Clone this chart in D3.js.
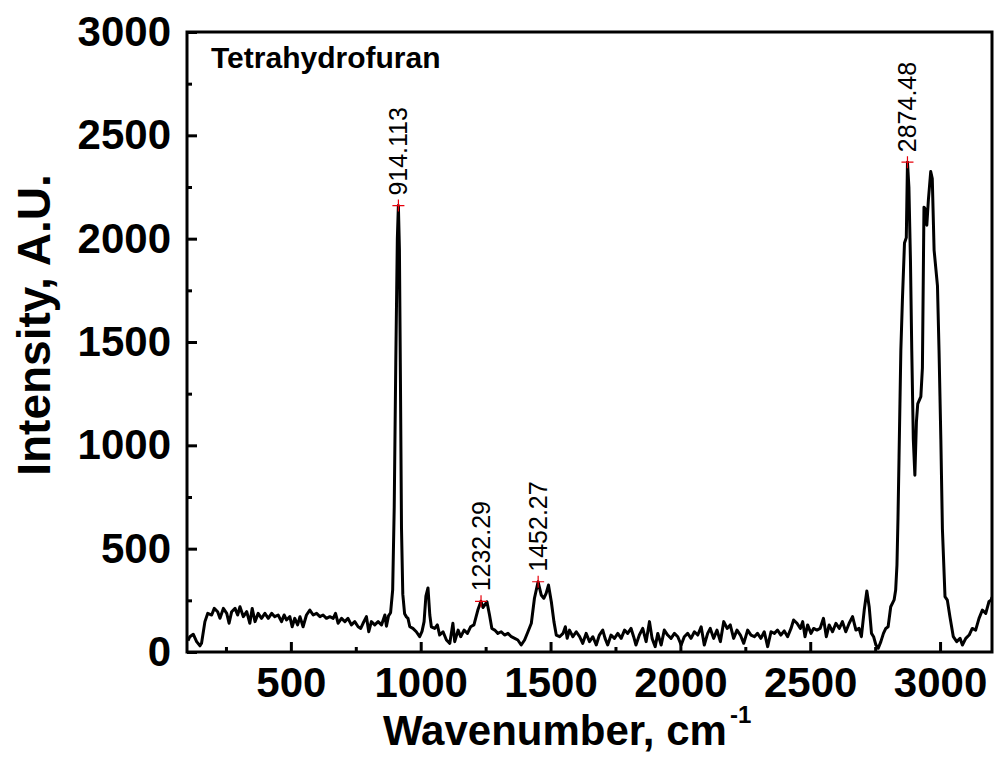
<!DOCTYPE html>
<html>
<head>
<meta charset="utf-8">
<script src="https://cdn.jsdelivr.net/npm/d3@7"></script>
<style>
    html, body { margin: 0; padding: 0; background: #ffffff; }
    #chart { width: 996px; height: 758px; }
    text { font-family: "Liberation Sans", Arial, sans-serif; }
</style>
</head>
<body>
<div id="chart"></div>
<script>

// spectrum
const wavenumbers = [
    104, 111, 124, 137, 150, 156, 169, 180, 195, 205, 218, 227, 240, 253, 262, 272, 285, 295, 304, 317,
    330, 342, 351, 362, 374, 387, 400, 413, 426, 438, 451, 464, 474, 483, 496, 505, 515, 526, 535, 547,
    560, 573, 586, 599, 612, 624, 637, 650, 663, 672, 682, 695, 708, 720, 733, 746, 759, 769, 778, 791,
    800, 810, 823, 836, 849, 862, 868, 876, 884, 892, 898, 904, 910, 914, 918, 922, 926, 931, 938, 945,
    951, 958, 970, 983, 996, 1005, 1013, 1020, 1028, 1035, 1041, 1054, 1064, 1073, 1086, 1099, 1112, 1124, 1131, 1144,
    1154, 1167, 1180, 1192, 1205, 1220, 1232, 1240, 1246, 1255, 1265, 1274, 1285, 1297, 1310, 1323, 1336, 1349, 1362, 1374,
    1387, 1400, 1413, 1426, 1438, 1452, 1464, 1474, 1483, 1492, 1503, 1513, 1522, 1535, 1548, 1557, 1564, 1573, 1586, 1599,
    1612, 1624, 1637, 1650, 1663, 1676, 1688, 1701, 1710, 1720, 1733, 1746, 1759, 1772, 1785, 1797, 1810, 1820, 1829, 1842,
    1855, 1868, 1881, 1891, 1903, 1913, 1926, 1938, 1951, 1964, 1977, 1990, 2003, 2015, 2028, 2041, 2054, 2067, 2080, 2092,
    2105, 2115, 2128, 2141, 2154, 2167, 2180, 2192, 2205, 2218, 2231, 2244, 2259, 2272, 2285, 2297, 2310, 2323, 2336, 2349,
    2362, 2374, 2387, 2400, 2413, 2426, 2436, 2449, 2462, 2471, 2480, 2490, 2503, 2513, 2526, 2538, 2551, 2562, 2573, 2586,
    2599, 2612, 2624, 2637, 2650, 2663, 2676, 2688, 2697, 2708, 2718, 2727, 2736, 2744, 2753, 2762, 2772, 2782, 2791, 2800,
    2810, 2823, 2829, 2834, 2838, 2842, 2849, 2855, 2863, 2870, 2874.48, 2880, 2886, 2891, 2897, 2903, 2909, 2914, 2926, 2932,
    2938, 2945, 2949, 2955, 2964, 2970, 2977, 2990, 2996, 3003, 3009, 3019, 3028, 3038, 3051, 3064, 3077, 3086, 3099, 3112,
    3124, 3137, 3150, 3163, 3176, 3188, 3197, 3200
];

const intensities = [
    55, 74, 86, 50, 30, 42, 147, 187, 179, 211, 195, 163, 211, 187, 139, 195, 211, 179, 219, 171,
    195, 139, 211, 147, 187, 163, 187, 163, 187, 171, 179, 147, 179, 155, 171, 122, 163, 131, 171, 122,
    179, 203, 179, 187, 171, 179, 163, 171, 163, 187, 139, 163, 147, 163, 131, 147, 122, 114, 139, 171,
    98, 147, 131, 147, 131, 179, 125, 175, 190, 300, 700, 1400, 2000, 2160, 1950, 1300, 600, 280, 185, 170,
    163, 122, 114, 98, 74, 100, 147, 270, 310, 179, 122, 114, 131, 82, 98, 58, 42, 139, 50, 106,
    74, 106, 90, 122, 131, 203, 245, 215, 227, 243, 179, 114, 106, 90, 98, 82, 90, 74, 66, 58,
    34, 58, 98, 139, 260, 340, 276, 260, 284, 324, 243, 147, 82, 74, 90, 122, 66, 106, 74, 98,
    74, 42, 90, 50, 74, 34, 82, 106, 66, 34, 82, 66, 90, 66, 106, 90, 114, 74, 34, 82,
    114, 50, 147, 66, 26, 90, 34, 106, 82, 66, 90, 74, 34, 74, 90, 66, 98, 82, 122, 34,
    90, 114, 66, 106, 50, 147, 114, 131, 66, 106, 82, 42, 106, 82, 74, 90, 66, 98, 26, 98,
    90, 106, 82, 102, 74, 114, 155, 139, 114, 147, 74, 131, 90, 114, 106, 114, 163, 74, 131, 98,
    139, 114, 147, 98, 139, 171, 106, 114, 74, 203, 295, 219, 90, 74, 34, 18, 50, 90, 114, 122,
    219, 252, 300, 420, 650, 942, 1461, 1703, 1979, 2005, 2370, 2250, 1893, 1461, 1029, 855, 1115, 1201, 1236, 1374,
    2152, 2140, 2065, 2187, 2325, 2291, 1945, 1772, 1461, 1029, 596, 268, 251, 171, 74, 50, 66, 34, 66, 82,
    114, 106, 163, 203, 187, 243, 252, 265
];

// labelled peaks
const peakPositions = [914.113, 1232.29, 1452.27, 2874.48];
const peakValues = [2160, 245, 340, 2370];
const peakLabels = ['914.113', '1232.29', '1452.27', '2874.48'];

// axes
const xDomain = [100, 3200];
const yDomain = [0, 3000];
const xMajorTicks = [500, 1000, 1500, 2000, 2500, 3000];
const xMinorTicks = [250, 750, 1250, 1750, 2250, 2750];
const yMajorTicks = [0, 500, 1000, 1500, 2000, 2500, 3000];
const yMinorTicks = [250, 750, 1250, 1750, 2250, 2750];

const sampleName = 'Tetrahydrofuran';
const xTitle = 'Wavenumber, cm';
const xTitleSup = '-1';
const yTitle = 'Intensity, A.U.';

// layout
const width = 996;
const height = 758;
const margins = { top: 32, bottom: 106, left: 187, right: 4 };
const innerWidth = width - margins.left - margins.right;
const innerHeight = height - margins.top - margins.bottom;

// svg
const svg = d3.select('#chart')
    .append('svg')
    .attr('width', width)
    .attr('height', height);

const group = svg.append('g')
    .attr('transform', `translate(${margins.left},${margins.top})`);

// scales
const xScale = d3.scaleLinear().domain(xDomain).range([0, innerWidth]);
const yScale = d3.scaleLinear().domain(yDomain).range([innerHeight, 0]);

// clip so the trace stays in the frame
group.append('clipPath')
    .attr('id', 'plot-clip')
    .append('rect')
    .attr('width', innerWidth)
    .attr('height', innerHeight);

// line generator
const spectrum = wavenumbers.map((w, i) => ({ w: w, v: intensities[i] }));

const line = d3.line()
    .x(d => xScale(d.w))
    .y(d => yScale(d.v));

group.append('path')
    .datum(spectrum)
    .attr('clip-path', 'url(#plot-clip)')
    .attr('fill', 'none')
    .attr('stroke', '#000')
    .attr('stroke-width', 3)
    .attr('stroke-linejoin', 'round')
    .attr('d', line);

// peak markers + labels
const peaks = peakPositions.map((p, i) => ({ p: p, v: peakValues[i], label: peakLabels[i] }));

const peakGroups = group.selectAll('.peak')
    .data(peaks)
    .join('g')
    .attr('class', 'peak')
    .attr('transform', d => `translate(${xScale(d.p)},${yScale(d.v)})`);

peakGroups.append('path')
    .attr('d', 'M-6,0H6M0,-6V6')
    .attr('stroke', '#e8000b')
    .attr('stroke-width', 1.2);

peakGroups.append('text')
    .attr('transform', 'rotate(-90)')
    .attr('x', 10)
    .attr('dy', '0.36em')
    .attr('font-size', 25)
    .attr('fill', '#000')
    .text(d => d.label);

// axes groups
const xAxisGroup = group.append('g').attr('transform', `translate(0,${innerHeight})`);
const xMinorGroup = group.append('g').attr('transform', `translate(0,${innerHeight})`);
const yAxisGroup = group.append('g');
const yMinorGroup = group.append('g');

const plain = d3.format('d');

xAxisGroup.call(d3.axisBottom(xScale).tickValues(xMajorTicks).tickFormat(plain).tickSize(-10).tickPadding(15).tickSizeOuter(0));
xMinorGroup.call(d3.axisBottom(xScale).tickValues(xMinorTicks).tickSize(-5).tickFormat('').tickSizeOuter(0));
yAxisGroup.call(d3.axisLeft(yScale).tickValues(yMajorTicks).tickFormat(plain).tickSize(-10).tickPadding(16).tickSizeOuter(0));
yMinorGroup.call(d3.axisLeft(yScale).tickValues(yMinorTicks).tickSize(-5).tickFormat('').tickSizeOuter(0));

[xAxisGroup, xMinorGroup, yAxisGroup, yMinorGroup].forEach(g => {
    g.select('.domain').remove();
    g.selectAll('.tick line').attr('stroke', '#000').attr('stroke-width', 3);
    g.selectAll('.tick text')
        .attr('fill', '#000')
        .attr('font-size', 42)
        .attr('font-weight', 'bold')
        .attr('font-family', '"Liberation Sans", Arial, sans-serif');
});

// frame
group.append('rect')
    .attr('width', innerWidth)
    .attr('height', innerHeight)
    .attr('fill', 'none')
    .attr('stroke', '#000')
    .attr('stroke-width', 3);

// sample name
group.append('text')
    .attr('x', 24)
    .attr('y', 36)
    .attr('font-size', 30)
    .attr('font-weight', 'bold')
    .text(sampleName);

// axis titles
const xLabel = svg.append('text')
    .attr('x', 383)
    .attr('y', 745)
    .attr('font-size', 42)
    .attr('font-weight', 'bold');
xLabel.append('tspan').text(xTitle);
xLabel.append('tspan')
    .attr('dx', 3)
    .attr('dy', -22)
    .attr('font-size', 24)
    .text(xTitleSup);

svg.append('text')
    .attr('transform', 'translate(50,325) rotate(-90)')
    .attr('text-anchor', 'middle')
    .attr('font-size', 46)
    .attr('font-weight', 'bold')
    .text(yTitle);

</script>
</body>
</html>
